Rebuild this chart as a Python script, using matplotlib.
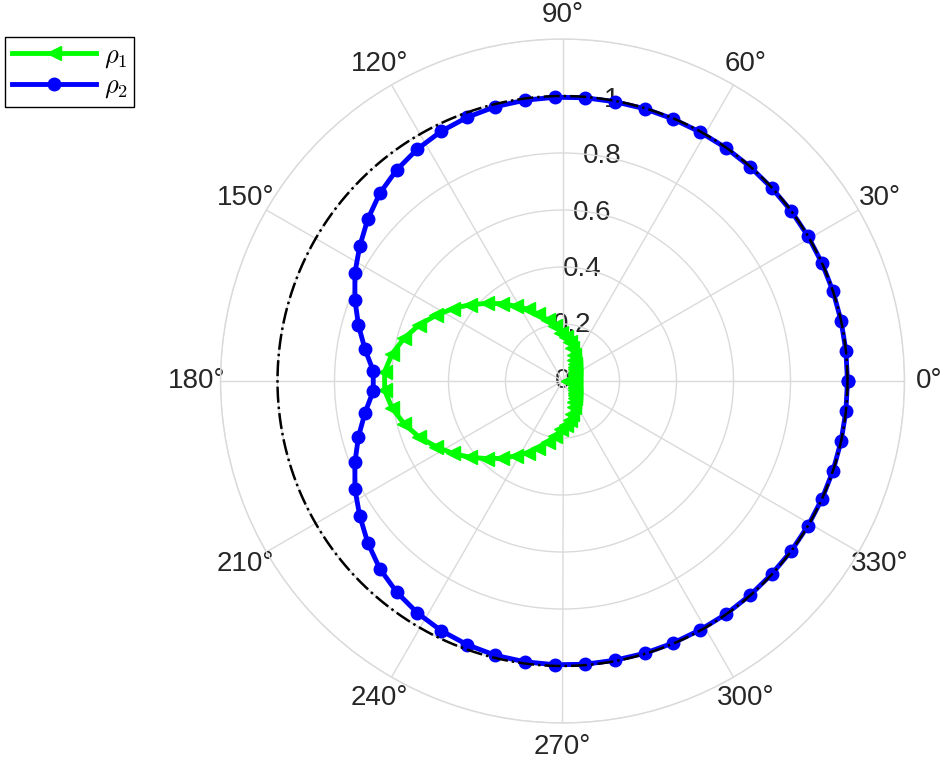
import numpy as np
import matplotlib
matplotlib.use("Agg")
import matplotlib.pyplot as plt

plt.rcParams['font.family'] = ['Liberation Sans', 'DejaVu Sans']
plt.rcParams['mathtext.fontset'] = 'cm'

# angles (degrees) of the sampled points
theta_deg = np.linspace(0, 360, 60)

rho1 = [0.02, 0.03, 0.04, 0.045, 0.05, 0.05, 0.055, 0.06, 0.065, 0.075,
        0.085, 0.10, 0.12, 0.14, 0.155, 0.17, 0.195, 0.22, 0.25, 0.28,
        0.31, 0.345, 0.38, 0.42, 0.46, 0.50, 0.54, 0.575, 0.605, 0.625,
        0.625, 0.605, 0.575, 0.54, 0.50, 0.46, 0.42, 0.38, 0.345, 0.31,
        0.28, 0.25, 0.22, 0.195, 0.17, 0.155, 0.14, 0.12, 0.10, 0.085,
        0.075, 0.065, 0.06, 0.055, 0.05, 0.05, 0.045, 0.04, 0.03, 0.02]

rho2 = [1.000, 1.000, 1.000, 1.000, 1.000, 1.000, 1.000, 0.999, 0.999, 0.999,
        0.998, 0.998, 0.998, 0.997, 0.997, 0.996, 0.994, 0.991, 0.984, 0.974,
        0.960, 0.942, 0.919, 0.888, 0.854, 0.821, 0.782, 0.742, 0.702, 0.665,
        0.665, 0.702, 0.742, 0.782, 0.821, 0.854, 0.888, 0.919, 0.942, 0.960,
        0.974, 0.984, 0.991, 0.994, 0.996, 0.997, 0.997, 0.998, 0.998, 0.998,
        0.999, 0.999, 0.999, 1.000, 1.000, 1.000, 1.000, 1.000, 1.000, 1.000]

ref_radius = 1.0
r_ticks = [0, 0.2, 0.4, 0.6, 0.8, 1.0, 1.2]
r_tick_labels = ['0', '0.2', '0.4', '0.6', '0.8', '1', '']
theta_ticks = [0, 30, 60, 90, 120, 150, 180, 210, 240, 270, 300, 330]
theta_labels = [f'{t}°' for t in theta_ticks]
legend_labels = [r'$\rho_1$', r'$\rho_2$']

text_col = '#262626'
grid_col = '#dadada'

fig = plt.figure(figsize=(9.44, 7.68), dpi=100)
ax = fig.add_axes([220.5 / 944, 45 / 768, 684 / 944, 684 / 768], projection='polar')

th = np.deg2rad(theta_deg)
l1, = ax.plot(th, rho1, color=(0, 1, 0), lw=3.5, marker='<', ms=9.5, zorder=3)
l2, = ax.plot(th, rho2, color=(0, 0, 1), lw=3.5, marker='o', ms=9, zorder=4)
tc = np.linspace(0, 2 * np.pi, 721)
ax.plot(tc, np.full_like(tc, ref_radius), color='k', lw=1.8, ls='-.', zorder=5)

ax.set_ylim(0, 1.2)
ax.set_yticks(r_ticks)
ax.set_yticklabels([])
ax.set_xticks(np.deg2rad(theta_ticks))
ax.set_xticklabels(theta_labels, fontsize=20, color=text_col)
ax.tick_params(axis='x', pad=7)
ax.grid(True, color=grid_col, lw=1)
ax.spines['polar'].set_color(grid_col)
ax.spines['polar'].set_linewidth(1)

lab_ang = np.deg2rad(80)
for r, lab in zip(r_ticks, r_tick_labels):
    if lab:
        ax.text(lab_ang, r, lab, fontsize=20, color=text_col,
                ha='center', va='center', zorder=1)

leg = fig.legend([l1, l2], legend_labels, loc='upper left',
                 bbox_to_anchor=(5 / 944, 1 - 37 / 768), borderaxespad=0,
                 fontsize=19, handlelength=3.2, handletextpad=0.3,
                 fancybox=False, edgecolor='k', framealpha=1,
                 borderpad=0.25, labelspacing=0.15)
leg.get_frame().set_linewidth(1)

fig.savefig('out.png', dpi=100)
